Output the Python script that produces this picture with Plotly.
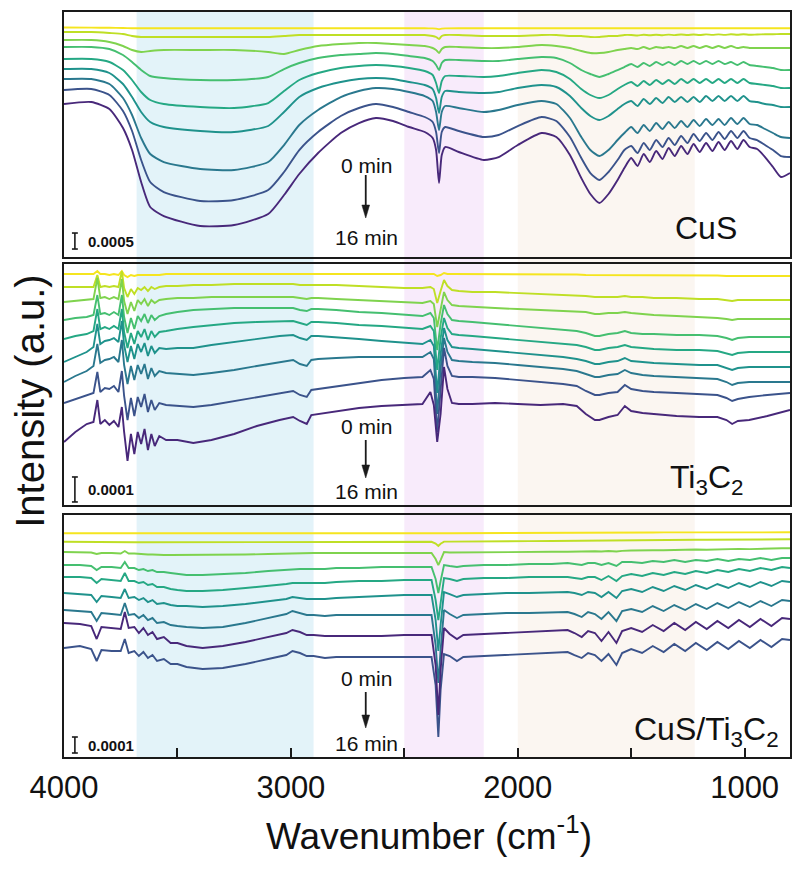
import plotly.graph_objects as go

# ---------------- DATA (offsets in a.u., larger = lower on the plot) -------------
TIMES = ["0 min", "2 min", "4 min", "6 min", "8 min", "10 min", "12 min", "14 min", "16 min"]

# ---- Panel 1 : CuS ----
W_CUS = [4000, 3880, 3800, 3740, 3700, 3660, 3620, 3560, 3400, 3250, 3100, 3030, 2963, 2880, 2780, 2700,
         2625, 2550, 2479, 2410, 2375, 2360, 2347, 2335, 2320, 2260, 2150, 2084, 2000, 1895, 1830, 1770,
         1720, 1680, 1640, 1600, 1560, 1530,
         1500, 1472, 1445, 1418, 1390, 1362, 1335, 1308, 1280, 1252, 1225, 1198, 1170, 1142, 1115, 1088,
         1060, 1032, 1005, 978,
         945, 910, 875, 840, 800]
CUS_T00 = [27.5, 27.6, 27.8, 28, 28.2, 28.3, 28.3, 28.3, 28.3, 28.3, 28.3, 28.3, 28.3, 28.3, 28.3, 28.3,
           28.3, 28.3, 28.3, 28.3, 28.4, 28.6, 29.2, 28.6, 28.4, 28.3, 28.3, 28.3, 28.3, 28.3, 28.3, 28.3,
           28.3, 28.3, 28.3, 28.3, 28.3, 28.3,
           28.3, 28.3, 28.3, 28.3, 28.3, 28.3, 28.3, 28.3, 28.3, 28.3, 28.3, 28.3, 28.3, 28.3, 28.3, 28.3,
           28.3, 28.3, 28.3, 28.3,
           28.3, 28.3, 28.3, 28.3, 28.3]
CUS_T02 = [32, 32, 33, 34, 36, 37, 37, 37, 37, 37, 37, 36, 35, 35, 35, 35,
           35, 35, 35, 35, 36, 37, 39, 36, 35, 35, 36, 36, 36, 35, 35, 36,
           36, 37, 37, 36, 36, 35,
           35, 35.5, 34.8, 35.3, 34.7, 35.2, 34.6, 35.1, 34.5, 35, 34.5, 35, 34.4, 34.9, 34.4, 34.9,
           34.3, 34.8, 34.3, 34.8,
           34.5, 34.3, 34.2, 34, 34]
CUS_T04 = [40, 40, 42, 46, 50, 52, 51, 50, 50, 50, 52, 54, 50, 46, 44, 43,
           43, 44, 45, 46, 48, 50, 53, 49, 47, 47, 48, 48, 47, 45, 46, 48,
           51, 53, 53, 52, 50, 49,
           48, 49, 47, 49, 47, 48, 47, 48, 46, 48, 46, 48, 46, 48, 46, 48,
           46, 48, 47, 48,
           48, 48, 48, 48, 48]
CUS_T06 = [47, 47, 49, 55, 62, 70, 76, 78, 80, 80, 77, 69, 63, 58, 55, 54,
           53, 54, 56, 58, 61, 65, 70, 63, 60, 60, 61, 61, 59, 57, 58, 63,
           70, 74, 77, 74, 70, 67,
           64, 67, 63, 66, 62, 65, 62, 65, 61, 64, 61, 64, 61, 64, 61, 64,
           62, 65, 62, 65,
           66, 67, 68, 70, 70]
CUS_T08 = [59, 59, 62, 70, 80, 92, 100, 104, 107, 108, 103, 91, 80, 73, 68, 66,
           65, 66, 68, 71, 75, 83, 93, 81, 76, 76, 77, 76, 73, 70, 72, 79,
           89, 95, 98, 95, 89, 85,
           82, 86, 81, 85, 80, 84, 80, 84, 79, 83, 79, 83, 79, 83, 79, 83,
           79, 83, 79, 83,
           84, 85, 86, 88, 88]
CUS_T10 = [69, 69, 73, 84, 97, 112, 122, 127, 131, 132, 126, 112, 97, 88, 82, 79,
           78, 79, 82, 85, 89, 98, 113, 97, 91, 92, 93, 92, 88, 85, 87, 96,
           108, 116, 120, 116, 109, 104,
           101, 106, 99, 104, 98, 103, 97, 102, 97, 102, 97, 102, 96, 101, 96, 101,
           96, 101, 96, 101,
           102, 104, 105, 107, 107]
CUS_T12 = [79, 79, 84, 98, 115, 138, 154, 162, 169, 170, 162, 145, 125, 110, 97, 91,
           88, 89, 92, 96, 101, 112, 130, 112, 106, 108, 112, 110, 105, 101, 104, 118,
           137, 150, 156, 150, 140, 133,
           127, 133, 125, 131, 123, 129, 122, 128, 121, 127, 120, 126, 119, 125, 119, 125,
           118, 124, 118, 124,
           125, 129, 133, 137, 138]
CUS_T14 = [90, 89, 95, 111, 131, 160, 182, 192, 201, 200, 190, 172, 150, 132, 116, 108,
           104, 107, 112, 117, 122, 132, 153, 132, 127, 131, 137, 135, 126, 117, 121, 137,
           158, 173, 180, 172, 160, 150,
           146, 153, 143, 150, 140, 147, 138, 145, 136, 143, 134, 141, 133, 140, 132, 139,
           131, 138, 131, 138,
           140, 145, 150, 156, 157]
CUS_T16 = [104, 102, 109, 128, 150, 182, 207, 216, 226, 225, 214, 195, 174, 153, 133, 123,
           118, 121, 127, 132, 138, 150, 183, 155, 147, 152, 160, 157, 145, 133, 137, 155,
           178, 194, 203, 194, 180, 168,
           158, 166, 154, 162, 151, 159, 148, 156, 146, 154, 144, 152, 143, 151, 142, 150,
           141, 149, 140, 147,
           149, 157, 167, 177, 173]

# ---- Panel 2 : Ti3C2 ----
W_TI = [4000, 3950, 3900, 3870, 3853, 3840, 3820, 3800, 3780, 3760, 3745, 3735, 3720, 3705, 3690, 3675,
        3660, 3645, 3630, 3615, 3600,
        3580, 3550, 3500, 3430, 3350, 3250, 3150, 3050,
        2990, 2960, 2930, 2910, 2880, 2800, 2700, 2600, 2500,
        2420, 2385, 2370, 2355, 2340, 2325, 2310, 2290, 2260,
        2200, 2100, 2000, 1900, 1800, 1740, 1700, 1660, 1640, 1600,
        1560, 1528, 1500, 1450, 1400, 1300, 1200, 1120,
        1080, 1055, 1030, 980, 900, 850, 800]
TI_T00 = [10, 10, 10, 10, 7, 10, 10, 11, 10, 11, 7, 11, 13, 11, 12, 11, 11, 11, 11, 11, 11,
          11, 10, 10, 10, 10, 10, 10, 10,
          10, 10, 10, 10, 10, 10, 10, 10, 10,
          10, 10, 10, 12, 11, 9, 10, 10, 10,
          10, 10, 10.5, 10.5, 10.5, 10.5, 11, 11, 11, 11,
          11, 11, 11, 11, 11, 11.5, 11.5, 11.5,
          12, 12, 12, 12, 12, 12, 12]
TI_T02 = [23, 23, 23, 23, 11, 23, 22, 23, 22, 23, 7, 24, 33, 25, 30, 24, 26, 23, 27, 23, 25,
          23, 22, 22, 21, 21, 20, 20, 20,
          20, 21, 21, 21, 21, 21, 22, 23, 24,
          24, 23, 25, 39, 27, 16, 22, 26, 27,
          28, 28, 29, 30, 31, 31, 32, 33, 33, 33,
          33, 32, 33, 33, 34, 34, 35, 35,
          36, 37, 36, 36, 36, 36, 36]
TI_T04 = [38, 37, 36, 35, 14, 34, 33, 35, 33, 35, 15, 37, 50, 38, 47, 36, 40, 35, 42, 36, 39,
          36, 35, 34, 34, 33, 33, 33, 33,
          33, 34, 35, 34, 34, 35, 36, 37, 38,
          39, 37, 40, 63, 45, 28, 36, 41, 42,
          43, 44, 45, 46, 47, 47, 48, 50, 50, 49,
          49, 48, 49, 50, 51, 52, 53, 54,
          55, 56, 55, 55, 55, 55, 55]
TI_T06 = [56, 54, 53, 51, 31, 50, 49, 51, 48, 51, 31, 53, 69, 54, 65, 52, 57, 50, 59, 51, 56,
          52, 50, 48, 46, 45, 44, 44, 44,
          44, 46, 47, 45, 45, 46, 48, 49, 51,
          52, 49, 54, 86, 60, 41, 50, 56, 57,
          58, 60, 62, 64, 66, 67, 69, 72, 72, 70,
          69, 67, 69, 70, 70, 71, 71, 72,
          74, 76, 74, 73, 73, 73, 73]
TI_T08 = [75, 72, 70, 67, 45, 65, 63, 65, 62, 65, 45, 68, 84, 69, 80, 67, 73, 65, 76, 67, 73,
          68, 67, 65, 63, 61, 59, 58, 57,
          57, 59, 61, 58, 58, 59, 61, 62, 64,
          65, 62, 67, 106, 74, 54, 64, 70, 71,
          72, 74, 76, 78, 80, 81, 83, 86, 86, 84,
          83, 81, 83, 84, 85, 86, 86, 87,
          89, 91, 89, 88, 88, 88, 88]
TI_T10 = [98, 93, 88, 83, 60, 80, 77, 76, 74, 78, 57, 81, 98, 82, 95, 80, 88, 79, 92, 82, 89,
          84, 85, 84, 84, 81, 78, 75, 72,
          71, 74, 76, 72, 72, 73, 75, 77, 79,
          80, 76, 82, 129, 90, 64, 76, 83, 84,
          85, 87, 89, 91, 93, 95, 97, 100, 100, 98,
          97, 94, 97, 98, 99, 100, 101, 101,
          104, 106, 104, 103, 103, 103, 103]
TI_T12 = [118, 112, 107, 102, 80, 99, 96, 95, 93, 98, 76, 101, 120, 102, 116, 101, 110, 100, 115, 104, 112,
          107, 109, 110, 111, 109, 106, 102, 98,
          96, 100, 102, 96, 95, 94, 93, 93, 93,
          93, 88, 95, 150, 105, 74, 88, 96, 97,
          98, 99, 101, 103, 105, 107, 110, 113, 113, 111,
          110, 106, 109, 111, 112, 113, 114, 115,
          118, 121, 119, 118, 118, 118, 118]
TI_T14 = [139, 135, 131, 129, 108, 128, 124, 125, 122, 128, 107, 132, 156, 134, 152, 133, 143, 130, 148, 136, 146,
          139, 141, 142, 143, 141, 137, 133, 129,
          127, 131, 133, 126, 125, 122, 119, 116, 114,
          113, 106, 115, 168, 125, 84, 102, 112, 113,
          113, 114, 116, 118, 120, 122, 127, 131, 131, 129,
          128, 121, 125, 127, 128, 129, 130, 131,
          134, 137, 135, 133, 131, 130, 129]
TI_T16 = [178, 168, 160, 158, 136, 160, 156, 161, 157, 163, 143, 168, 197, 170, 190, 168, 180, 165, 186, 170, 182,
          172, 176, 176, 179, 176, 170, 162, 156,
          153, 157, 160, 151, 150, 147, 144, 142, 141,
          140, 128, 141, 178, 150, 103, 125, 139, 140,
          140, 139, 140, 141, 140, 142, 150, 156, 156, 153,
          151, 142, 147, 149, 150, 152, 153, 153,
          156, 160, 157, 156, 152, 149, 146]

# ---- Panel 3 : CuS/Ti3C2 ----
W_CT = [4000, 3930, 3880, 3856, 3835, 3790, 3750, 3732, 3715, 3690, 3670, 3650, 3630, 3610, 3590, 3560,
        3530, 3500, 3460,
        3389, 3300, 3200, 3100, 3020, 2993, 2960, 2930, 2900, 2850, 2800, 2700, 2600, 2500,
        2420, 2380, 2362, 2350, 2340, 2325, 2300, 2268, 2240, 2150, 2050,
        1950, 1850, 1780, 1750, 1718, 1690, 1660, 1631, 1600, 1565, 1540,
        1500, 1452, 1405, 1357, 1310, 1262, 1215, 1167, 1120, 1072, 1025, 977, 930, 882, 835, 800]
CT_T00 = [18.3, 18.3, 18.3, 18.3, 18.3, 18.3, 18.3, 18.3, 18.3, 18.3, 18.3, 18.3, 18.3, 18.3, 18.3, 18.3,
          18.3, 18.3, 18.3,
          18.3, 18.3, 18.3, 18.3, 18.3, 18.3, 18.3, 18.3, 18.3, 18.3, 18.3, 18.3, 18.3, 18.3,
          18.3, 18.3, 18.5, 19, 18.5, 18.3, 18.2, 18.2, 18.1, 18, 18,
          17.9, 17.9, 17.8, 17.8, 17.7, 17.7, 17.7, 17.6, 17.6, 17.6, 17.5,
          17.5, 17.5, 17.5, 17.4, 17.4, 17.4, 17.4, 17.4, 17.3, 17.3, 17.3, 17.3, 17.3, 17.3, 17.3, 17.3]
CT_T02 = [26.7, 26.7, 26.8, 27, 27, 27, 27.1, 26.5, 27.2, 27.2, 27.3, 27.3, 27.3, 27.3, 27.3, 27.3,
          27.3, 27.3, 27.3,
          27.3, 27.3, 27.2, 27.1, 27, 27, 27, 27, 27, 27, 27, 27, 27, 26.8,
          26.7, 26.8, 28.5, 31, 28.7, 26.6, 26.6, 26.5, 26.5, 26.4, 26.3,
          26.1, 26, 25.8, 25.7, 25.7, 25.6, 25.5, 25.5, 25.4, 25.4, 25.3,
          25.2, 25.2, 25.1, 25, 25, 24.9, 24.8, 24.8, 24.7, 24.6, 24.6, 24.5, 24.5, 24.4, 24.3, 24.3]
CT_T04 = [37, 37, 37.5, 39, 38, 38, 38.5, 36, 38.5, 38.5, 39, 39, 39.5, 39.5, 40, 40,
          40, 40, 40,
          40, 40, 39.5, 39, 38.5, 38, 38, 38, 38, 38, 38, 38, 38, 37.7,
          37.5, 38, 44, 50, 45, 37, 37.5, 37.5, 37.5, 37.3, 37,
          37, 36.8, 36.7, 36.5, 36.5, 36.3, 36.2, 36.5, 36, 36.5, 35.8,
          35.5, 35.7, 35.2, 35.3, 34.8, 35, 34.5, 34.7, 34.2, 34.4, 33.9, 34.1, 33.6, 33.8, 33.3, 33.3]
CT_T06 = [50, 50, 51, 55, 52, 52, 53, 47, 53, 53, 55, 54, 56, 55, 57, 57,
          58, 59, 60,
          60, 59, 58, 56, 55, 54, 54, 54, 54, 54, 53, 53, 52, 52,
          52, 52, 64, 78, 66, 50, 51, 52, 51, 50, 50,
          49, 49, 48, 49, 50, 48, 48, 50, 48, 51, 47,
          47, 48, 46, 47, 45, 47, 45, 46, 44, 46, 44, 45, 43, 45, 43, 43]
CT_T08 = [62, 62, 63, 68, 64, 65, 66, 58, 66, 66, 68, 67, 70, 69, 72, 72,
          74, 75, 76,
          76, 75, 73, 71, 69, 68, 68, 68, 68, 68, 67, 66, 66, 65,
          65, 65, 85, 105, 88, 63, 64, 66, 64, 63, 63,
          62, 62, 62, 63, 64, 62, 62, 65, 61, 66, 61,
          59, 61, 58, 60, 57, 59, 56, 58, 55, 57, 54, 56, 53, 55, 52, 53]
CT_T10 = [78, 79, 80, 87, 81, 82, 83, 74, 83, 82, 85, 83, 87, 85, 89, 88,
          90, 91, 91,
          92, 91, 89, 86, 84, 82, 83, 84, 84, 84, 83, 82, 81, 80,
          80, 80, 105, 136, 110, 77, 79, 82, 80, 79, 78,
          78, 77, 77, 78, 80, 77, 78, 82, 77, 83, 76,
          74, 77, 72, 76, 71, 75, 70, 74, 69, 73, 68, 72, 67, 71, 66, 67]
CT_T12 = [95, 96, 97, 106, 98, 99, 100, 88, 100, 99, 103, 100, 105, 103, 108, 107,
          110, 111, 112,
          113, 112, 108, 103, 99, 96, 98, 100, 100, 101, 100, 100, 100, 100,
          100, 100, 130, 168, 135, 95, 99, 103, 100, 99, 98,
          98, 97, 97, 99, 102, 97, 99, 104, 97, 106, 96,
          94, 97, 91, 96, 90, 95, 89, 94, 88, 93, 87, 92, 86, 91, 85, 86]
CT_T14 = [133, 131, 134, 146, 135, 136, 136, 124, 138, 136, 141, 137, 143, 140, 146, 144,
          149, 149, 152,
          154, 153, 149, 144, 140, 136, 138, 141, 141, 143, 142, 142, 142, 142,
          142, 142, 170, 222, 175, 139, 141, 146, 142, 141, 140,
          139, 138, 137, 140, 143, 138, 140, 146, 139, 150, 138,
          134, 138, 131, 137, 129, 136, 128, 135, 127, 134, 126, 133, 125, 132, 124, 125]
CT_T16 = [108, 109, 111, 124, 112, 113, 114, 97, 113, 112, 118, 113, 120, 117, 124, 122,
          128, 128, 131,
          133, 131, 127, 122, 118, 115, 117, 120, 120, 121, 121, 121, 121, 120,
          120, 120, 150, 200, 155, 113, 119, 124, 120, 119, 118,
          117, 116, 115, 118, 122, 116, 118, 126, 117, 128, 116,
          113, 117, 110, 116, 108, 115, 107, 114, 106, 113, 105, 112, 104, 111, 103, 104]

# shaded wavenumber bands (cm-1)
BANDS = [(3680, 2900), (2500, 2150), (2000, 1220)]
SCALE_BARS = ["0.0005", "0.0001", "0.0001"]
PANEL_NAMES = ["CuS", "Ti<sub>3</sub>C<sub>2</sub>", "CuS/Ti<sub>3</sub>C<sub>2</sub>"]
X_TICKS = [4000, 3000, 2000, 1000]
X_TICK_TEXT = ["4000", "3000", "2000", "1000"]
X_MINOR = [3500, 2500, 1500]

# ---------------- STYLE ----------------
COLORS = ['#f5e51f', '#bfdf25', '#7fd34e', '#45bf70', '#25a884', '#1f928c', '#2a788e', '#3b538b', '#48287a']
BAND_COLORS = ['#e3f3f9', '#f8ebfb', '#fbf6f1']
FONT = 'Liberation Sans, Arial, sans-serif'
INK = '#1a1a1a'

# (x axis, y axis, wavenumbers, series, line shape, y range top->bottom in a.u.)
panels = [
    ("x", "y", W_CUS, [CUS_T00, CUS_T02, CUS_T04, CUS_T06, CUS_T08, CUS_T10, CUS_T12, CUS_T14, CUS_T16], 'spline', (12, 257)),
    ("x2", "y2", W_TI, [TI_T00, TI_T02, TI_T04, TI_T06, TI_T08, TI_T10, TI_T12, TI_T14, TI_T16], 'linear', (0, 241)),
    ("x3", "y3", W_CT, [CT_T00, CT_T02, CT_T04, CT_T06, CT_T08, CT_T10, CT_T12, CT_T14, CT_T16], 'linear', (0, 242)),
]

fig = go.Figure()
for xa, ya, w, series, shape, _ in panels:
    for t, vals, col in zip(TIMES, series, COLORS):
        if len(vals) != len(w):
            raise ValueError(f"length mismatch {xa} {t}: {len(vals)} vs {len(w)}")
        line = dict(color=col, width=1.9, shape=shape)
        if shape == 'spline':
            line['smoothing'] = 0.6
        fig.add_trace(go.Scatter(x=w, y=vals, mode='lines', line=line, name=t,
                                 xaxis=xa, yaxis=ya, showlegend=False, hoverinfo='skip'))

frame = dict(showline=True, mirror=True, linecolor=INK, linewidth=1.6, showgrid=False, zeroline=False)
domains = [[0.6711, 1.0], [0.3383, 0.6617], [0.0, 0.3248]]
layout = dict(
    width=794, height=870,
    margin=dict(l=64, r=2, t=12, b=113),
    paper_bgcolor='white', plot_bgcolor='rgba(0,0,0,0)',
    font=dict(family=FONT, color='#111'),
    showlegend=False,
)
for i, (xa, ya, w, series, shape, (top, bot)) in enumerate(panels):
    xk = 'xaxis' if i == 0 else f'xaxis{i+1}'
    yk = 'yaxis' if i == 0 else f'yaxis{i+1}'
    xd = dict(frame, range=[4000, 800], domain=[0, 1], anchor=ya)
    if i < 2:
        xd.update(showticklabels=False, ticks='')
    else:
        xd.update(tickmode='array', tickvals=X_TICKS, ticktext=X_TICK_TEXT,
                  ticks='inside', ticklen=9, tickwidth=1.6, tickcolor=INK,
                  ticklabelstandoff=2,
                  tickfont=dict(size=31, family=FONT, color='#111'),
                  minor=dict(tickmode='array', tickvals=X_MINOR, ticks='inside', ticklen=9,
                             tickwidth=1.6, tickcolor=INK, showgrid=False))
    layout[xk] = xd
    layout[yk] = dict(frame, range=[bot, top], domain=domains[i], anchor=xa,
                      showticklabels=False, ticks='')
fig.update_layout(**layout)

# shaded bands over the full stack
for (a, b), c in zip(BANDS, BAND_COLORS):
    fig.add_shape(type='rect', xref='x3', yref='paper', x0=a, x1=b, y0=0, y1=1,
                  fillcolor=c, line=dict(width=0), layer='below')

# per-panel decorations (positions measured from each panel's top)
bar_spans = [(221, 237), (213, 238), (222, 238)]
txt_y = [(153, 163, 206, 225), (163, 176, 214, 228), (163, 177, 213, 228)]
for i, (xa, ya, w, series, shape, (top, bot)) in enumerate(panels):
    y0, y1 = bar_spans[i][0] + top, bar_spans[i][1] + top
    for (xx0, yy0, xx1, yy1) in [(3952, y0, 3952, y1), (3965, y0, 3939, y0), (3965, y1, 3939, y1)]:
        fig.add_shape(type='line', xref=xa, yref=ya, x0=xx0, y0=yy0, x1=xx1, y1=yy1,
                      line=dict(color=INK, width=1.6))
    fig.add_annotation(xref=xa, yref=ya, x=3905, y=(y0 + y1) / 2, text=f"<b>{SCALE_BARS[i]}</b>",
                       showarrow=False, xanchor='left', yanchor='middle',
                       font=dict(size=15, family=FONT, color='#111'))
    ty0, a0, a1, ty1 = [v + top for v in txt_y[i]]
    fig.add_annotation(xref=xa, yref=ya, x=2668, y=ty0, text="0 min", showarrow=False,
                       font=dict(size=21, family=FONT, color='#111'))
    fig.add_annotation(xref=xa, yref=ya, x=2668, y=ty1, text="16 min", showarrow=False,
                       font=dict(size=21, family=FONT, color='#111'))
    # arrow: shaft + filled head
    fig.add_shape(type='line', xref=xa, yref=ya, x0=2670, y0=a0, x1=2670, y1=a1 - 8,
                  line=dict(color=INK, width=1.8))
    fig.add_shape(type='path', xref=xa, yref=ya,
                  path=f"M 2670 {a1} L 2687 {a1 - 13} L 2653 {a1 - 13} Z",
                  fillcolor=INK, line=dict(color=INK, width=0.5))
    fig.add_annotation(xref=xa, yref=ya, x=1169, y=216 + top, text=PANEL_NAMES[i], showarrow=False,
                       xanchor='center', yanchor='middle',
                       font=dict(size=32, family=FONT, color='#111'))

fig.add_annotation(xref='paper', yref='paper', x=-0.047, y=0.478, text="Intensity (a.u.)",
                   textangle=-90, showarrow=False, xanchor='center', yanchor='middle',
                   font=dict(size=40, family=FONT, color='#111'))
fig.add_annotation(xref='paper', yref='paper', x=0.503, y=-0.103, text="Wavenumber (cm<sup>-1</sup>)",
                   showarrow=False, xanchor='center', yanchor='middle',
                   font=dict(size=37, family=FONT, color='#111'))

fig.write_html("out.html", config={'displayModeBar': False},
               post_script="document.body.style.margin='0px';document.body.style.overflow='hidden';")
